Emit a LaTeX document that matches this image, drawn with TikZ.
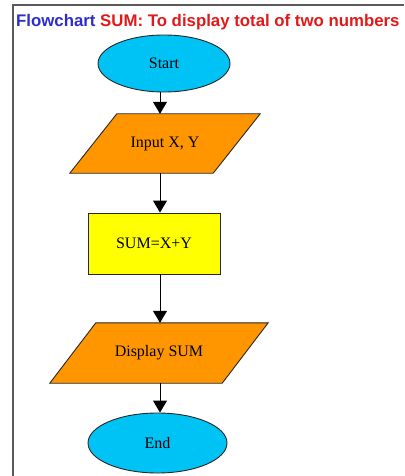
\documentclass[tikz,border=0pt]{standalone}
\usepackage{fontspec}
\setmainfont{Liberation Serif}
\newfontfamily\titlefont{Liberation Sans}
\usetikzlibrary{shapes.geometric,arrows.meta,backgrounds}
\definecolor{tblue}{RGB}{45,45,205}
\definecolor{tred}{RGB}{225,25,25}
\definecolor{skyc}{RGB}{0,195,245}
\definecolor{orangec}{RGB}{255,150,0}
\definecolor{yellowc}{RGB}{255,255,0}
\definecolor{framec}{RGB}{90,90,90}
\begin{document}
\begin{tikzpicture}[x=1pt,y=-1pt,
  every node/.style={font=\fontsize{16}{18}\selectfont, text=black},
  term/.style={ellipse, draw=black!85, line width=0.9pt, fill=skyc, inner sep=0pt},
  iobox/.style={rectangle, inner sep=0pt, minimum height=59pt},
  procbox/.style={rectangle, draw=black!85, line width=0.9pt, fill=yellowc, minimum width=132pt, minimum height=61pt, inner sep=0pt},
  flow/.style={draw=black, line width=1pt, -{Triangle[width=14pt,length=12pt]}},
  iofill/.style={fill=orangec, draw=black!85, line width=0.9pt, line join=miter}
]
\useasboundingbox (0,0) rectangle (404,476);
\draw[framec, line width=1.4pt] (13,476) -- (13,5) -- (404,5);
\node[anchor=base west, inner sep=0pt, font=\titlefont\bfseries\fontsize{16.8}{18}\selectfont] (title) at (16,27) {\textcolor{tblue}{Flowchart} \textcolor{tred}{SUM: To display total of two numbers}};
\coordinate (axis) at (160,0);
\node[term, minimum width=132pt, minimum height=57pt] (start) at (164,63.5) {Start};
\node[iobox, minimum width=143pt] (input) at (165,143.5) {Input X, Y};
\node[procbox] (sum) at (154,243.5) {SUM=X+Y};
\node[iobox, minimum width=172pt, minimum height=60pt] (disp) at (159,353) {Display SUM};
\node[term, minimum width=139pt, minimum height=60pt] (stop) at (157.5,443) {End};
\begin{scope}[on background layer]
\path[iofill] ([xshift=-23.5pt]input.south west) -- ([xshift=23.5pt]input.north west) -- ([xshift=23.5pt]input.north east) -- ([xshift=-23.5pt]input.south east) -- cycle;
\path[iofill] ([xshift=-23pt]disp.south west) -- ([xshift=23pt]disp.north west) -- ([xshift=23pt]disp.north east) -- ([xshift=-23pt]disp.south east) -- cycle;
\end{scope}
\draw[flow] (start.south -| axis) -- (input.north -| axis);
\draw[flow] (input.south -| axis) -- (sum.north -| axis);
\draw[flow] (sum.south -| axis) -- (disp.north -| axis);
\draw[flow] (disp.south -| axis) -- (stop.north -| axis);
\end{tikzpicture}
\end{document}
